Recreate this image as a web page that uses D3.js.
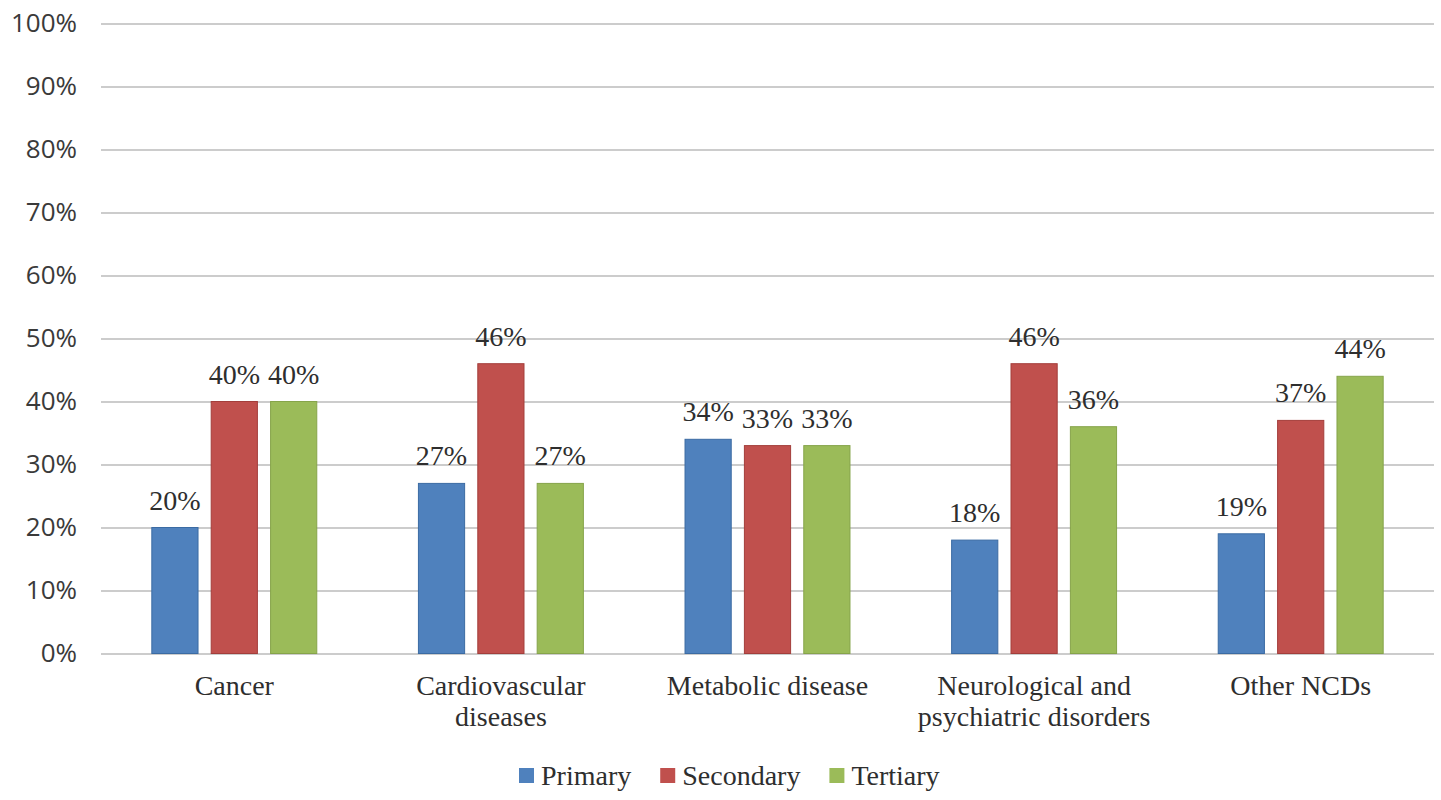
<!DOCTYPE html>
<html lang="en">
  <head>
    <meta charset="utf-8">
    <script src="https://d3js.org/d3.v7.min.js"></script>
    <title>Prevention by NCD group</title>
    <style>
      body { margin:0; background:#fff; }
      .grid line { stroke:#cccccc; stroke-width:2; }
      .grid path { display:none; }
      .yaxis text { font-family:"Open Sans", sans-serif; font-size:26px; fill:#3a3a3a; }
      .serif { font-family:"Liberation Serif", serif; fill:#2e2e2e; font-size:28px; }
    </style>
  </head>
  <body>
    <script>

      // data
      var categories = [["Cancer"], ["Cardiovascular", "diseases"], ["Metabolic disease"],
                        ["Neurological and", "psychiatric disorders"], ["Other NCDs"]];
      var series = ["Primary", "Secondary", "Tertiary"];
      var primary   = [20, 27, 34, 18, 19];
      var secondary = [40, 46, 33, 46, 37];
      var tertiary  = [40, 27, 33, 36, 44];
      var yTicks = [0, 10, 20, 30, 40, 50, 60, 70, 80, 90, 100];

      var colors = ["#4f81bd", "#c0504d", "#9bbb59"];
      var strokes = ["#3b6ba3", "#a33e3b", "#86a44a"];

      var width = 1441, height = 800;
      var plotL = 101, plotR = 1434, plotT = 23.5, plotB = 653.5;

      var svg = d3.select("body").append("svg")
        .attr("width", width).attr("height", height);

      var keys = categories.map(function(c){ return c.join(" "); });
      var rows = keys.map(function(k, i){
        return { key:k, lines:categories[i], vals:[primary[i], secondary[i], tertiary[i]] };
      });

      // scales
      var x = d3.scaleBand().domain(keys).range([plotL, plotR]).padding(0);
      var xs = d3.scaleBand().domain(series).range([0, x.bandwidth()])
        .paddingInner(0.222).paddingOuter(0.856);
      var y = d3.scaleLinear().domain([0, 100]).range([plotB, plotT]);

      // grid
      svg.append("g").attr("class", "grid")
        .attr("transform", "translate(" + plotL + ",0)")
        .call(d3.axisLeft(y).tickValues(yTicks).tickSize(-(plotR - plotL)).tickFormat(""));

      // y labels
      svg.append("g").attr("class", "yaxis")
        .attr("transform", "translate(" + plotL + ",0)")
        .call(d3.axisLeft(y).tickValues(yTicks).tickSize(0).tickPadding(24)
          .tickFormat(function(d){ return d + "%"; }))
        .call(function(g){ g.select(".domain").remove(); });

      // bars
      var grp = svg.selectAll("g.cat").data(rows).enter().append("g")
        .attr("class", "cat")
        .attr("transform", function(d){ return "translate(" + x(d.key) + ",0)"; });

      grp.selectAll("rect").data(function(d){ return d.vals; }).enter().append("rect")
        .attr("x", function(d, i){ return xs(series[i]); })
        .attr("y", function(d){ return y(d); })
        .attr("width", xs.bandwidth())
        .attr("height", function(d){ return y(0) - y(d); })
        .attr("fill", function(d, i){ return colors[i]; })
        .attr("stroke", function(d, i){ return strokes[i]; })
        .attr("stroke-width", 1);

      grp.selectAll("text.lbl").data(function(d){ return d.vals; }).enter().append("text")
        .attr("class", "lbl serif")
        .attr("x", function(d, i){ return xs(series[i]) + xs.bandwidth() / 2; })
        .attr("y", function(d){ return y(d) - 18; })
        .attr("text-anchor", "middle")
        .text(function(d){ return d + "%"; });

      // category labels
      var cl = svg.selectAll("text.catlbl").data(rows).enter().append("text")
        .attr("class", "catlbl serif")
        .attr("text-anchor", "middle")
        .attr("transform", function(d){ return "translate(" + (x(d.key) + x.bandwidth() / 2) + ",695)"; });
      cl.selectAll("tspan").data(function(d){ return d.lines; }).enter().append("tspan")
        .attr("x", 0).attr("y", function(d, i){ return i * 31; })
        .text(function(d){ return d; });

      // legend
      var legend = svg.append("g").attr("transform", "translate(519,776)");
      var items = legend.selectAll("g").data(series).enter().append("g");
      items.append("rect").attr("width", 15).attr("height", 15).attr("y", -8)
        .attr("fill", function(d, i){ return colors[i]; });
      items.append("text").attr("class", "serif").attr("x", 22).attr("y", 9)
        .text(function(d){ return d; });
      var lx = 0;
      items.each(function(){
        d3.select(this).attr("transform", "translate(" + lx + ",0)");
        lx += 22 + d3.select(this).select("text").node().getComputedTextLength() + 29;
      });

    </script>
  </body>
</html>
